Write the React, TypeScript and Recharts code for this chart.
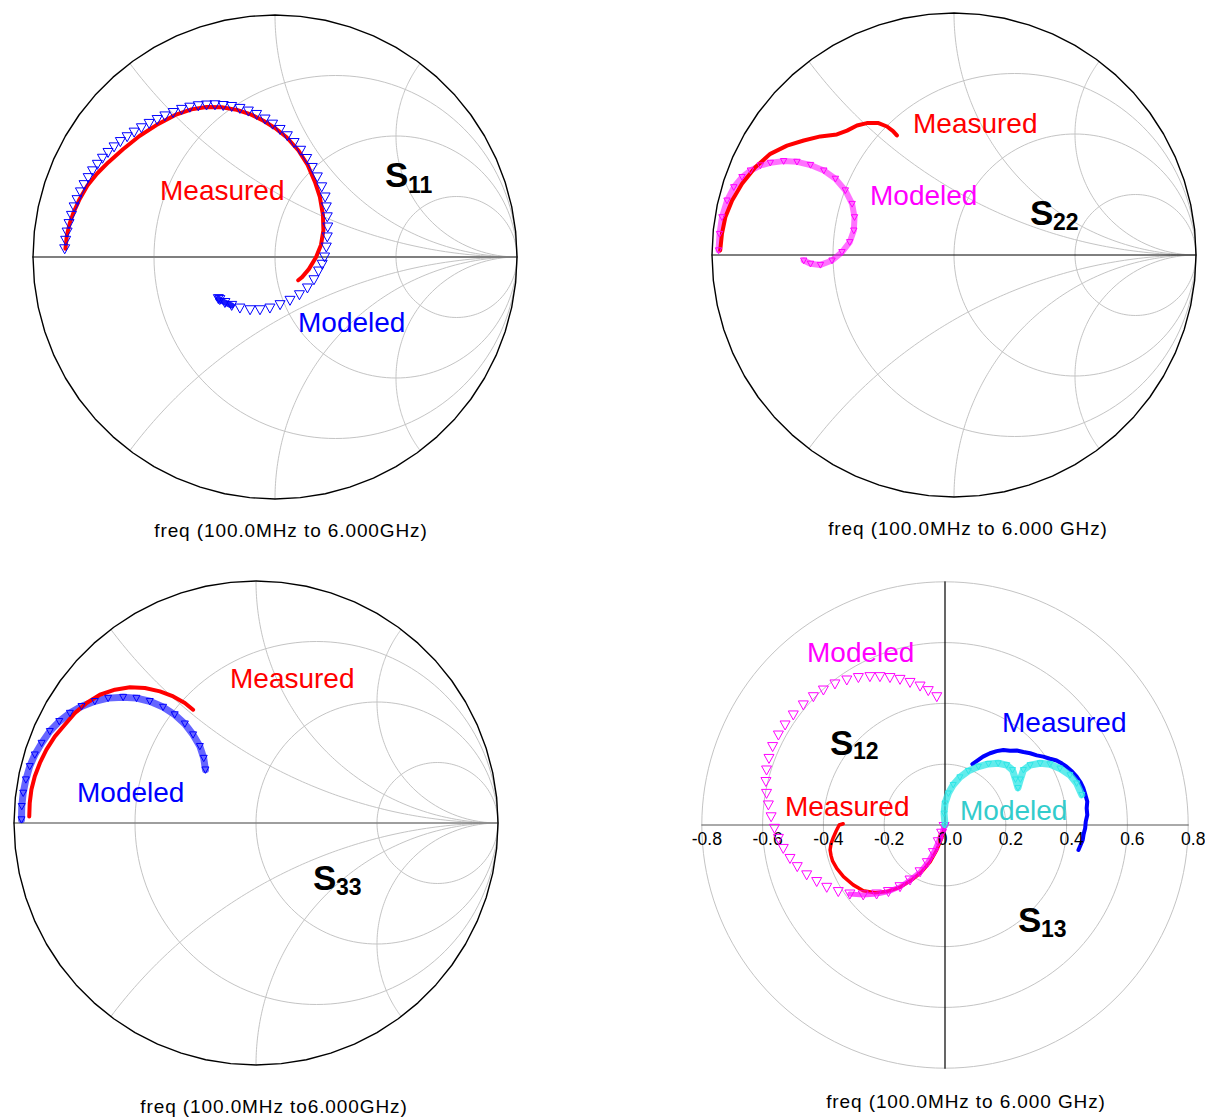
import React from 'react';
import { ComposedChart, Line, Scatter, XAxis, YAxis, ReferenceDot } from 'recharts';

type Pt = [number, number];

// reflection coefficients (re, im)
const S11_MEASURED: Pt[] = [
  [-0.866, 0.034], [-0.860, 0.090], [-0.848, 0.140], [-0.832, 0.185], [-0.807, 0.240], [-0.775, 0.295],
  [-0.735, 0.345], [-0.688, 0.392], [-0.628, 0.445], [-0.560, 0.500], [-0.490, 0.545], [-0.412, 0.587],
  [-0.345, 0.610], [-0.283, 0.620], [-0.220, 0.619], [-0.158, 0.608], [-0.100, 0.589], [-0.048, 0.563],
  [0.000, 0.533], [0.048, 0.495], [0.097, 0.440], [0.135, 0.380], [0.165, 0.310], [0.185, 0.250],
  [0.198, 0.175], [0.200, 0.110], [0.190, 0.050], [0.170, 0.000], [0.140, -0.050], [0.112, -0.083],
  [0.096, -0.096],
];
const S11_MODELED: Pt[] = [
  [-0.869, 0.034], [-0.865, 0.069], [-0.859, 0.103], [-0.851, 0.138], [-0.841, 0.172], [-0.830, 0.207],
  [-0.818, 0.237], [-0.804, 0.269], [-0.789, 0.299], [-0.772, 0.328], [-0.754, 0.356], [-0.734, 0.383],
  [-0.713, 0.408], [-0.690, 0.432], [-0.665, 0.455], [-0.639, 0.477], [-0.611, 0.497], [-0.582, 0.516],
  [-0.552, 0.534], [-0.520, 0.552], [-0.487, 0.568], [-0.455, 0.583], [-0.421, 0.597], [-0.386, 0.610],
  [-0.352, 0.619], [-0.317, 0.625], [-0.283, 0.628], [-0.248, 0.629], [-0.214, 0.626], [-0.179, 0.622],
  [-0.145, 0.614], [-0.110, 0.603], [-0.076, 0.589], [-0.041, 0.570], [-0.010, 0.549], [0.021, 0.527],
  [0.051, 0.501], [0.079, 0.473], [0.106, 0.441], [0.131, 0.407], [0.154, 0.370], [0.175, 0.331],
  [0.193, 0.290], [0.207, 0.248], [0.212, 0.207], [0.216, 0.166], [0.218, 0.124], [0.216, 0.083],
  [0.212, 0.041], [0.205, 0.000], [0.195, -0.030], [0.180, -0.058], [0.161, -0.094], [0.134, -0.128],
  [0.101, -0.156], [0.062, -0.179], [0.021, -0.197], [-0.021, -0.211], [-0.062, -0.218], [-0.103, -0.218],
  [-0.145, -0.211], [-0.179, -0.200], [-0.207, -0.188], [-0.228, -0.176], [-0.234, -0.172],
];
const S22_MEASURED: Pt[] = [
  [-0.966, 0.019], [-0.959, 0.087], [-0.945, 0.156], [-0.917, 0.225], [-0.876, 0.294], [-0.821, 0.363],
  [-0.759, 0.418], [-0.690, 0.452], [-0.621, 0.473], [-0.552, 0.490], [-0.484, 0.498], [-0.442, 0.514],
  [-0.401, 0.535], [-0.360, 0.545], [-0.312, 0.545], [-0.277, 0.531], [-0.252, 0.512], [-0.236, 0.494],
];
const S22_MODELED: Pt[] = [
  [-0.973, 0.019], [-0.969, 0.087], [-0.959, 0.156], [-0.938, 0.225], [-0.910, 0.280], [-0.876, 0.322],
  [-0.841, 0.349], [-0.800, 0.370], [-0.759, 0.381], [-0.704, 0.388], [-0.649, 0.385], [-0.593, 0.372],
  [-0.538, 0.349], [-0.490, 0.315], [-0.449, 0.267], [-0.421, 0.211], [-0.411, 0.156], [-0.414, 0.101],
  [-0.431, 0.053], [-0.463, 0.012], [-0.504, -0.023], [-0.552, -0.041], [-0.593, -0.036], [-0.621, -0.023],
];
const S33_MEASURED: Pt[] = [
  [-0.937, 0.027], [-0.935, 0.083], [-0.928, 0.138], [-0.914, 0.193], [-0.893, 0.248], [-0.866, 0.303],
  [-0.831, 0.358], [-0.790, 0.406], [-0.749, 0.454], [-0.700, 0.496], [-0.645, 0.530], [-0.583, 0.551],
  [-0.521, 0.561], [-0.459, 0.558], [-0.397, 0.544], [-0.342, 0.523], [-0.294, 0.496], [-0.260, 0.468],
];
const S33_MODELED: Pt[] = [
  [-0.969, 0.014], [-0.968, 0.069], [-0.962, 0.124], [-0.951, 0.179], [-0.935, 0.234], [-0.914, 0.282],
  [-0.886, 0.330], [-0.852, 0.379], [-0.813, 0.420], [-0.769, 0.454], [-0.721, 0.482], [-0.666, 0.503],
  [-0.611, 0.516], [-0.549, 0.520], [-0.494, 0.516], [-0.439, 0.503], [-0.384, 0.479], [-0.336, 0.448],
  [-0.294, 0.410], [-0.260, 0.365], [-0.232, 0.317], [-0.216, 0.268], [-0.209, 0.220],
];
// transmission terms on the polar plot (re, im)
const S12_MEASURED: Pt[] = [
  [-0.335, 0.004], [-0.348, 0.000], [-0.358, -0.020], [-0.367, -0.040], [-0.375, -0.062], [-0.378, -0.082],
  [-0.375, -0.100], [-0.370, -0.118], [-0.356, -0.143], [-0.334, -0.170], [-0.302, -0.197], [-0.269, -0.216],
  [-0.230, -0.223], [-0.192, -0.219], [-0.148, -0.205], [-0.110, -0.181], [-0.077, -0.154], [-0.049, -0.121],
  [-0.027, -0.082], [-0.011, -0.044], [-0.003, -0.011],
];
const S12_MODELED: Pt[] = [
  [-0.027, 0.422], [-0.055, 0.442], [-0.082, 0.457], [-0.115, 0.469], [-0.148, 0.479], [-0.181, 0.485],
  [-0.214, 0.488], [-0.247, 0.488], [-0.285, 0.485], [-0.323, 0.477], [-0.362, 0.464], [-0.400, 0.444],
  [-0.433, 0.422], [-0.466, 0.395], [-0.499, 0.362], [-0.526, 0.329], [-0.548, 0.296], [-0.567, 0.258],
  [-0.579, 0.219], [-0.587, 0.181], [-0.589, 0.143], [-0.587, 0.104], [-0.581, 0.066], [-0.572, 0.027],
  [-0.561, -0.011], [-0.548, -0.044], [-0.532, -0.077], [-0.510, -0.110], [-0.486, -0.137], [-0.455, -0.164],
  [-0.422, -0.186], [-0.389, -0.205], [-0.351, -0.219], [-0.313, -0.227], [-0.269, -0.230], [-0.225, -0.227],
  [-0.186, -0.219], [-0.148, -0.203], [-0.115, -0.181], [-0.082, -0.154], [-0.058, -0.124], [-0.038, -0.091],
  [-0.022, -0.055], [-0.011, -0.027], [-0.003, -0.005],
];
const S13_MEASURED: Pt[] = [
  [0.090, 0.200], [0.104, 0.210], [0.125, 0.225], [0.148, 0.236], [0.170, 0.243], [0.192, 0.247],
  [0.214, 0.244], [0.236, 0.245], [0.258, 0.240], [0.280, 0.236], [0.302, 0.229], [0.323, 0.225],
  [0.345, 0.218], [0.367, 0.212], [0.385, 0.202], [0.400, 0.192], [0.418, 0.176], [0.433, 0.159],
  [0.446, 0.140], [0.455, 0.121], [0.462, 0.099], [0.468, 0.077], [0.466, 0.055], [0.468, 0.033],
  [0.463, 0.011], [0.461, -0.011], [0.456, -0.030], [0.453, -0.049], [0.446, -0.066], [0.439, -0.082],
];
const S13_MODELED: Pt[] = [
  [0.000, 0.000], [-0.003, 0.038], [0.000, 0.071], [0.011, 0.104], [0.027, 0.132], [0.049, 0.157],
  [0.077, 0.178], [0.110, 0.192], [0.143, 0.201], [0.175, 0.203], [0.203, 0.197], [0.222, 0.181],
  [0.232, 0.150], [0.240, 0.122], [0.248, 0.150], [0.258, 0.181], [0.280, 0.197], [0.313, 0.203],
  [0.345, 0.200], [0.378, 0.186], [0.411, 0.164], [0.433, 0.137], [0.450, 0.099],
];

const R_CIRCLES = [1 / 3, 1, 3];
const X_ARCS = [0.5, 1, 2];
const POLAR_RINGS = [0.2, 0.4, 0.6, 0.8];
const POLAR_TICKS = [-0.8, -0.6, -0.4, -0.2, 0.0, 0.2, 0.4, 0.6, 0.8];
const FREQ_LABELS = [
  'freq (100.0MHz to 6.000GHz)',
  'freq (100.0MHz to 6.000 GHz)',
  'freq (100.0MHz to6.000GHz)',
  'freq (100.0MHz to 6.000 GHz)',
];

const RED = '#ff0000';
const BLUE = '#0000ff';
const MAGENTA = '#ff00ff';
const CYAN = '#2ee6e6';
const GRID = '#c4c4c4';
const FONT = '"Liberation Sans", Arial, Helvetica, sans-serif';

const SMITH_BOX = 500;
const SMITH_R = 242;
const SMITH_K = SMITH_BOX / 2 / SMITH_R;
const POLAR_BOX = 520;
const POLAR_SCALE = 304;
const POLAR_K = POLAR_BOX / 2 / POLAR_SCALE;

const xy = (pts: Pt[]) => pts.map(([x, y]) => ({ x, y }));

const circle = (cx: number, cy: number, r: number, n = 160) =>
  Array.from({ length: n + 1 }, (_, i) => {
    const t = (i / n) * Math.PI * 2;
    return { x: cx + r * Math.cos(t), y: cy + r * Math.sin(t) };
  });

// constant reactance arc, gamma = (z-1)/(z+1) with z = rho + j*xv
const reactanceArc = (xv: number, n = 120) =>
  Array.from({ length: n + 1 }, (_, i) => {
    const rho = Math.tan((i / n) * (Math.PI / 2) * 0.998);
    const a = rho - 1;
    const c = rho + 1;
    const den = c * c + xv * xv;
    return { x: (a * c + xv * xv) / den, y: (2 * xv) / den };
  });

const triangle = (color: string, h: number) => (p: any) => {
  const { cx, cy } = p;
  if (cx == null || cy == null) return <g />;
  return (
    <polygon
      points={`${cx - h},${cy - h * 0.8} ${cx + h},${cy - h * 0.8} ${cx},${cy + h}`}
      fill="none"
      stroke={color}
      strokeWidth={1}
    />
  );
};

const curve = (key: string, data: any[], color: string, width: number, opacity = 1) => (
  <Line
    key={key}
    data={data}
    dataKey="y"
    stroke={color}
    strokeWidth={width}
    strokeOpacity={opacity}
    strokeLinejoin="round"
    strokeLinecap="round"
    dot={false}
    activeDot={false}
    isAnimationActive={false}
  />
);

const markers = (key: string, data: Pt[], color: string, h: number) => (
  <Scatter key={key} data={xy(data)} shape={triangle(color, h)} isAnimationActive={false} />
);

function smithGrid(axisColor: string, axisWidth: number) {
  const out: any[] = [];
  R_CIRCLES.forEach((r, i) => out.push(curve(`r${i}`, circle(r / (r + 1), 0, 1 / (r + 1)), GRID, 1)));
  X_ARCS.forEach((xv, i) => {
    out.push(curve(`xp${i}`, reactanceArc(xv), GRID, 1));
    out.push(curve(`xn${i}`, reactanceArc(-xv), GRID, 1));
  });
  out.push(curve('axis', [{ x: -1, y: 0 }, { x: 1, y: 0 }], axisColor, axisWidth));
  out.push(curve('outer', circle(0, 0, 1, 60), '#000', 1.4));
  return out;
}

function SmithPanel({ left, top, axisColor, axisWidth, children }: any) {
  return (
    <div style={{ position: 'absolute', left, top }}>
      <ComposedChart width={SMITH_BOX} height={SMITH_BOX} margin={{ top: 0, right: 0, bottom: 0, left: 0 }}>
        <XAxis type="number" dataKey="x" domain={[-SMITH_K, SMITH_K]} hide allowDataOverflow />
        <YAxis type="number" dataKey="y" domain={[-SMITH_K, SMITH_K]} hide allowDataOverflow />
        {smithGrid(axisColor, axisWidth)}
        {children}
      </ComposedChart>
    </div>
  );
}

const tickLabel = (v: number) => (props: any) => {
  const vb = props.viewBox || {};
  const cx = (vb.x ?? 0) + (vb.width ?? 0) / 2;
  const cy = (vb.y ?? 0) + (vb.height ?? 0) / 2;
  return (
    <text x={cx + 5} y={cy + 20} textAnchor="middle" fontSize={17.5} fontFamily={FONT} fill="#000">
      {v.toFixed(1)}
    </text>
  );
};

function PolarPanel({ left, top, children }: any) {
  return (
    <div style={{ position: 'absolute', left, top }}>
      <ComposedChart width={POLAR_BOX} height={POLAR_BOX} margin={{ top: 0, right: 0, bottom: 0, left: 0 }}>
        <XAxis type="number" dataKey="x" domain={[-POLAR_K, POLAR_K]} hide allowDataOverflow />
        <YAxis type="number" dataKey="y" domain={[-POLAR_K, POLAR_K]} hide allowDataOverflow />
        {POLAR_RINGS.map((r, i) => curve(`ring${i}`, circle(0, 0, r), GRID, 1))}
        {curve('hax', [{ x: -0.8, y: 0 }, { x: 0.8, y: 0 }], '#555', 1)}
        {curve('vax', [{ x: 0, y: -0.8 }, { x: 0, y: 0.8 }], '#000', 1.2)}
        {POLAR_TICKS.map((v) => (
          <ReferenceDot key={`t${v}`} x={v} y={0} r={1} fill="none" stroke="none" label={tickLabel(v)} />
        ))}
        {children}
      </ComposedChart>
    </div>
  );
}

type Note = { t: string; x: number; y: number; c: string; s: number; b?: boolean };

const NOTES: Note[] = [
  { t: 'Measured', x: 160, y: 200, c: RED, s: 28 },
  { t: 'Modeled', x: 298, y: 332, c: BLUE, s: 28 },
  { t: 'S', x: 385, y: 187, c: '#000', s: 35, b: true },
  { t: '11', x: 408, y: 193, c: '#000', s: 23, b: true },
  { t: 'Measured', x: 913, y: 133, c: RED, s: 28 },
  { t: 'Modeled', x: 870, y: 205, c: MAGENTA, s: 28 },
  { t: 'S', x: 1030, y: 225, c: '#000', s: 35, b: true },
  { t: '22', x: 1053, y: 230, c: '#000', s: 23, b: true },
  { t: 'Measured', x: 230, y: 688, c: RED, s: 28 },
  { t: 'Modeled', x: 77, y: 802, c: BLUE, s: 28 },
  { t: 'S', x: 313, y: 890, c: '#000', s: 35, b: true },
  { t: '33', x: 336, y: 895, c: '#000', s: 23, b: true },
  { t: 'Modeled', x: 807, y: 662, c: MAGENTA, s: 28 },
  { t: 'S', x: 830, y: 755, c: '#000', s: 35, b: true },
  { t: '12', x: 853, y: 759, c: '#000', s: 23, b: true },
  { t: 'Measured', x: 785, y: 816, c: RED, s: 28 },
  { t: 'Modeled', x: 960, y: 820, c: '#33cccc', s: 28 },
  { t: 'Measured', x: 1002, y: 732, c: BLUE, s: 28 },
  { t: 'S', x: 1018, y: 932, c: '#000', s: 35, b: true },
  { t: '13', x: 1041, y: 937, c: '#000', s: 23, b: true },
];

const FREQ_POS = [
  { x: 291, y: 537 },
  { x: 968, y: 535 },
  { x: 274, y: 1113 },
  { x: 966, y: 1108 },
];

export default function App() {
  return (
    <div style={{ position: 'absolute', left: 0, top: 0, width: 1210, height: 1119, background: '#fff', overflow: 'hidden' }}>
      <SmithPanel left={275 - SMITH_BOX / 2} top={256.7 - SMITH_BOX / 2} axisColor="#7f7f7f" axisWidth={2}>
        {curve('s11end', xy(S11_MODELED.slice(61)), BLUE, 6, 0.9)}
        {markers('s11mod', S11_MODELED, BLUE, 5)}
        {curve('s11meas', xy(S11_MEASURED), RED, 4)}
      </SmithPanel>

      <SmithPanel left={953.7 - SMITH_BOX / 2} top={254.5 - SMITH_BOX / 2} axisColor="#000" axisWidth={1}>
        {curve('s22band', xy(S22_MODELED), MAGENTA, 6, 0.55)}
        {markers('s22mod', S22_MODELED, MAGENTA, 3.2)}
        {curve('s22meas', xy(S22_MEASURED), RED, 4)}
      </SmithPanel>

      <SmithPanel left={256.2 - SMITH_BOX / 2} top={823.3 - SMITH_BOX / 2} axisColor="#7f7f7f" axisWidth={1.5}>
        {curve('s33band', xy(S33_MODELED), BLUE, 7, 0.6)}
        {markers('s33mod', S33_MODELED, BLUE, 3.5)}
        {curve('s33meas', xy(S33_MEASURED), RED, 4)}
      </SmithPanel>

      <PolarPanel left={945 - POLAR_BOX / 2} top={825 - POLAR_BOX / 2}>
        {curve('s12meas', xy(S12_MEASURED), RED, 3.5)}
        {curve('s12band', xy(S12_MODELED.slice(33)), MAGENTA, 5, 0.7)}
        {markers('s12mod', S12_MODELED, MAGENTA, 5)}
        {curve('s13meas', xy(S13_MEASURED), BLUE, 4)}
        {curve('s13band', xy(S13_MODELED), CYAN, 7, 0.75)}
        {markers('s13mod', S13_MODELED, CYAN, 3)}
      </PolarPanel>

      <svg width={1210} height={1119} style={{ position: 'absolute', left: 0, top: 0, pointerEvents: 'none' }}>
        {NOTES.map((n, i) => (
          <text key={i} x={n.x} y={n.y} fill={n.c} fontSize={n.s} fontWeight={n.b ? 'bold' : 'normal'} fontFamily={FONT}>
            {n.t}
          </text>
        ))}
        {FREQ_LABELS.map((t, i) => (
          <text
            key={`f${i}`}
            x={FREQ_POS[i].x}
            y={FREQ_POS[i].y}
            textAnchor="middle"
            fontSize={19}
            letterSpacing={0.9}
            fontFamily={FONT}
            fill="#000"
          >
            {t}
          </text>
        ))}
      </svg>
    </div>
  );
}
